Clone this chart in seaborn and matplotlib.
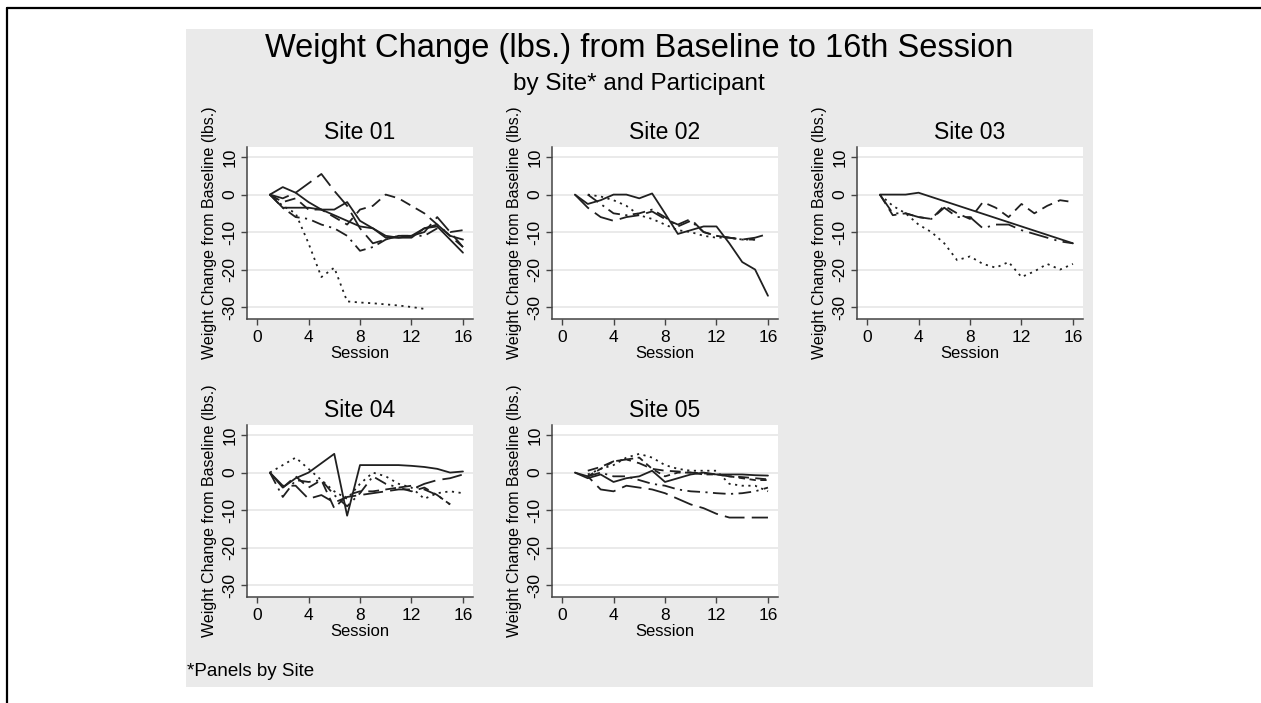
import matplotlib.pyplot as plt
import matplotlib.patches as mpatches
import matplotlib.lines as mlines
import numpy as np
import pandas as pd
import seaborn as sns

nan = np.nan
sessions = list(range(1, 17))

# Weight change per participant, sessions 1..16 (nan = no visit)
site01_p1 = [0, 2, 0.5, -2, -4, -5.5, -7, -8.5, -9, -11.5, -11.5, -11, -9, -8.5, -12, -15.5]
site01_p2 = [0, -1, 0.5, 3, 5.5, 1, -3, -9, -13, -12, -11, -11, -10, -6, -10, -14]
site01_p3 = [0, -3, -5, -13, -22, -19.5, -28.5, -28.8, -29, -29.3, -29.6, -30, -30.5, nan, nan, nan]
site01_p4 = [0, -3.5, -6, -6.5, -8, -9, -11, -15, -14, -12, -11, -11, -11, -9, -10, -9.5]
site01_p5 = [0, -2, -1, -4, -4, -6, -8, -4, -3, 0, -1, -3, -5, -8, -11, -14]
site01_p6 = [0, -3.5, -3.5, -3.5, -4, -4, -2, -7, -9, -11, -11.5, -11.5, -9, -8, -11, -12]

site02_p1 = [0, -2.5, -1.5, 0, 0, -1, 0.3, -5, -10.5, -9.5, -8.5, -8.5, -13, -18, -20, -27]
site02_p2 = [nan, 0, -0.5, -1.5, -3, -5.5, -6.5, -8, -9.5, -10, -11, -11.5, -11.5, -12, -12, nan]
site02_p3 = [0, -3.5, -6, -7, -6, -5.5, -4.5, -6.5, -8, -6.5, -10, -11, -11.5, -12, -11.5, -10.5]
site02_p4 = [nan, 0, -2.5, -5, -5.5, -5, -4, -6, -8.5, -7, -10, -11, -11.5, -12, -12, nan]

site03_p1 = [0, 0, 0, 0.5, nan, nan, nan, nan, nan, nan, nan, nan, nan, nan, nan, -13]
site03_p2 = [0, -5, -5, -6, -6.5, -3.5, -6, -6, -9, -8, -8, -9.5, -10.5, -11.5, -12.5, -13]
site03_p3 = [0, -5.5, -5, -6, -6.5, -3, -5, -6.5, -2, -3.5, -6, -2.5, -5, -3, -1.5, -2]
site03_p4 = [0, -3, -5, -8, -10, -13, -17.5, -16.5, -18.5, -19.5, -18, -22, -20.5, -18.5, -20, -18.5]

site04_p1 = [0, -4, -1.5, 0, 2.5, 5, -11.5, 2, 2, 2, 2, 1.8, 1.5, 1, 0, 0.3]
site04_p2 = [0, 2, 4, 1, -2, -5, -7, -3, 0, -1, -3, -4, -7, -5.5, -5, -5.5]
site04_p3 = [0, -6.5, -2, -2.5, -2, -6, -9, -5.5, -1, -3, -4, -3.5, -4.5, -6, -8.5, nan]
site04_p4 = [0, -3.5, -3.5, -7, -6, -8, -6.5, -6, -5.5, -5, -4.5, -4.5, -3, -2, -1.5, -0.5]
site04_p5 = [nan, -4, -1, -4, -2, -9.5, -6, -5, -5, -4.5, -4, -5, -4, -6, -8.5, nan]

site05_p1 = [0, -1.5, -0.5, -2.5, -1.5, -1, 0.5, -2.5, -1.5, -0.5, 0, -0.5, -0.5, -0.5, -0.7, -0.8]
site05_p2 = [nan, 0.5, 1.5, 3, 3.5, 2.5, 1, 0.5, 0.3, 0, -0.2, -0.5, -1, -1.2, -1.5, -1.8]
site05_p3 = [0, -1, -4.5, -5, -3.5, -4, -4.5, -5.5, -7, -8.5, -9.5, -11, -12, -12, -12, -12]
site05_p4 = [nan, -1, 0, -1, -1, -2, -3, -3.5, -4.5, -5, -5.2, -5.5, -5.7, -5.5, -5, -4]
site05_p5 = [nan, -0.5, 1, 2, 4, 5, 4, 2, 1, 0.5, 0.5, 0.5, -3, -3.5, -3.5, -5]
site05_p6 = [nan, -1, 1, 3, 3.5, 4, 1, -1, 0, 0, -0.5, -0.5, -1, -1.5, -2, -2]

sites = {
    'Site 01': [site01_p1, site01_p2, site01_p3, site01_p4, site01_p5, site01_p6],
    'Site 02': [site02_p1, site02_p2, site02_p3, site02_p4],
    'Site 03': [site03_p1, site03_p2, site03_p3, site03_p4],
    'Site 04': [site04_p1, site04_p2, site04_p3, site04_p4, site04_p5],
    'Site 05': [site05_p1, site05_p2, site05_p3, site05_p4, site05_p5, site05_p6],
}

# line pattern of each participant, in the same order as above
site_patterns = {
    'Site 01': ['solid', 'longdash', 'dot', 'dashdot', 'dash', 'solid'],
    'Site 02': ['solid', 'dot', 'longdash', 'dashdot'],
    'Site 03': ['solid', 'longdash_dot', 'dash', 'dot'],
    'Site 04': ['solid', 'dot', 'dashdot', 'longdash', 'dash'],
    'Site 05': ['solid', 'dash', 'longdash', 'dashdot', 'dot', 'shortdash'],
}

# Stata-like line patterns
patterns = {'solid': '', 'dash': (6, 3.5), 'longdash': (11, 4), 'dot': (1.2, 2.5),
            'dashdot': (7, 3, 1.2, 3), 'longdash_dot': (11, 3.5, 1.2, 3.5), 'shortdash': (3.5, 2.5)}

# long table, missing visits dropped so lines connect across them
rows = []
for site, series in sites.items():
    for i, vals in enumerate(series):
        for s, v in zip(sessions, vals):
            if not np.isnan(v):
                rows.append((site, f'p{i + 1}', s, v))
df = pd.DataFrame(rows, columns=['site', 'participant', 'session', 'change'])

sns.set_style('white')
plt.rcParams['font.family'] = ['Liberation Sans', 'DejaVu Sans']
plt.rcParams['text.color'] = 'black'
plt.rcParams['axes.labelcolor'] = 'black'
plt.rcParams['xtick.color'] = 'black'
plt.rcParams['ytick.color'] = 'black'
plt.rcParams['axes.unicode_minus'] = False

fig = plt.figure(figsize=(12.61, 7.03), dpi=100)
W, H = 1261, 703

# gray graph region and outer frame lines
fig.patches.append(mpatches.Rectangle((186 / W, 1 - 687 / H), (1093 - 186) / W, (687 - 29) / H,
                                      transform=fig.transFigure, facecolor='#eaeaea',
                                      edgecolor='none', zorder=-5))
fig.lines.append(mlines.Line2D([7 / W, 1], [1 - 8 / H, 1 - 8 / H], transform=fig.transFigure,
                               color='black', lw=1.6, zorder=-5))
fig.lines.append(mlines.Line2D([7 / W, 7 / W], [0, 1 - 8 / H], transform=fig.transFigure,
                               color='black', lw=1.6, zorder=-5))

fig.text(639 / W, 1 - 48 / H, 'Weight Change (lbs.) from Baseline to 16th Session',
         ha='center', va='center', fontsize=23.5)
fig.text(639 / W, 1 - 84 / H, 'by Site* and Participant', ha='center', va='center', fontsize=17.5)
fig.text(187 / W, 1 - 672 / H, '*Panels by Site', ha='left', va='center', fontsize=13.5)

col_left = [247, 552, 857]
row_bottom = [319, 597]
aw, ah = 226, 172

for k, site in enumerate(sites):
    r, c = divmod(k, 3)
    ax = fig.add_axes([col_left[c] / W, 1 - row_bottom[r] / H, aw / W, ah / H])
    ax.set_facecolor('white')
    sub = df[df['site'] == site]
    levels = [f'p{i + 1}' for i in range(len(sites[site]))]
    dash_map = {p: patterns[name] for p, name in zip(levels, site_patterns[site])}
    sns.lineplot(data=sub, x='session', y='change', style='participant', style_order=levels,
                 dashes=dash_map, color='#202020', lw=1.3, legend=False, ax=ax, zorder=3)
    ax.set_xlim(-0.78, 16.78)
    ax.set_ylim(-33.2, 12.7)
    ax.set_xticks([0, 4, 8, 12, 16])
    ax.set_yticks([-30, -20, -10, 0, 10])
    ax.grid(axis='y', color='#e6e6e6', lw=1.2)
    ax.set_axisbelow(True)
    for sp in ['top', 'right']:
        ax.spines[sp].set_visible(False)
    for sp in ['left', 'bottom']:
        ax.spines[sp].set_color('#444444')
        ax.spines[sp].set_linewidth(1.1)
    ax.tick_params(axis='both', which='major', direction='out', length=4, width=1,
                   color='#444444', labelsize=12.5, pad=3, left=True, bottom=True)
    ax.tick_params(axis='x', pad=4)
    for lab in ax.get_yticklabels():
        lab.set_rotation(90)
        lab.set_va('center')
    ax.set_title(site, fontsize=16.5, pad=6)
    ax.set_xlabel('Session', fontsize=12, labelpad=0)
    ax.set_ylabel('Weight Change from Baseline (lbs.)', fontsize=11.5)
    ax.yaxis.set_label_coords(-30 / aw, 0.5)
    ax.xaxis.set_label_coords(0.5, -27 / ah)

fig.savefig('out.png', dpi=100, facecolor='white')
